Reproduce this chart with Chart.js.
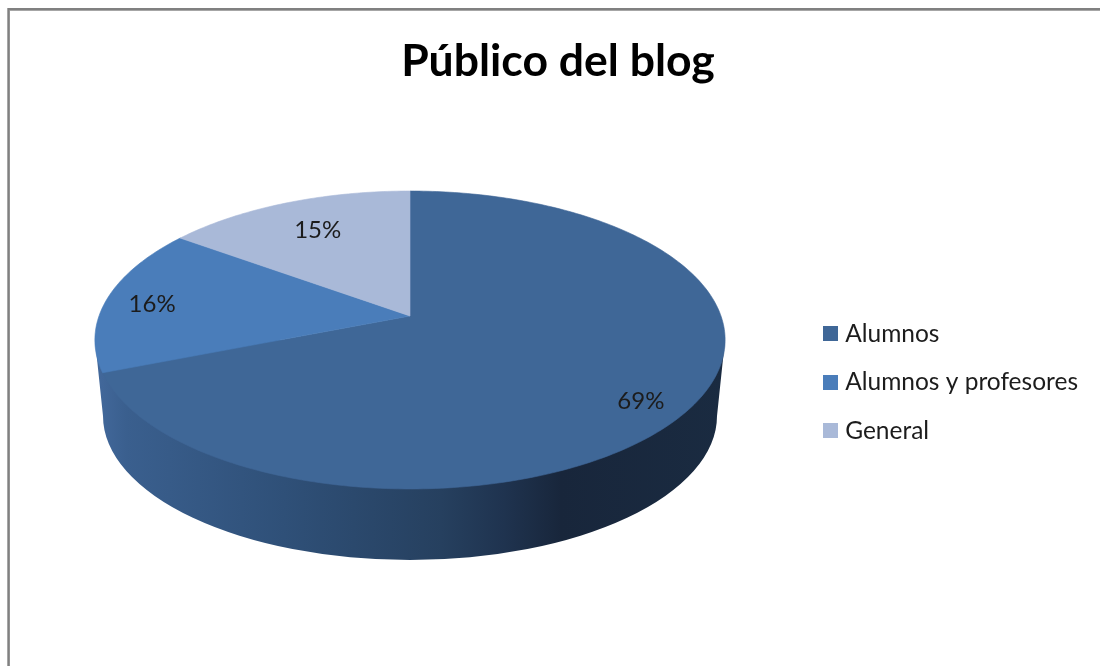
<!DOCTYPE html>
<html>
<head>
<meta charset="utf-8">
<script src="https://cdn.jsdelivr.net/npm/chart.js@4"></script>
<style>html,body{margin:0;padding:0;background:#fff;overflow:hidden}canvas{display:block}</style>
</head>
<body>
<canvas id="c" width="1100" height="666"></canvas>
<script>
const categories = ["Alumnos", "Alumnos y profesores", "General"];
const shares = [69, 16, 15];
const colors = ["#3f6797", "#4a7dba", "#a9b9d8"];
const labelNudges = [[9, 15], [-15, 3], [9, 7]];

// Perspective projection of the pie disc onto the page
const view = {cx: 410, cy: 316, a: 311, b: 145.1, k: -0.161};
function project(r, ang) {
  const x = r * Math.cos(ang), y = r * Math.sin(ang), w = 1 + view.k * y;
  return [view.cx + view.a * x / w, view.cy + view.b * y / w];
}
function swatch(color) {
  const s = document.createElement('canvas');
  s.width = 15; s.height = 15;
  const g = s.getContext('2d');
  g.fillStyle = color; g.fillRect(0, 0, 15, 15);
  return s;
}
const frame = {
  id: 'frame',
  beforeDraw(chart) {
    const c = chart.ctx;
    c.save();
    c.fillStyle = '#fff'; c.fillRect(0, 0, chart.width, chart.height);
    c.fillStyle = '#a6a6a6';
    c.fillRect(8, 8, chart.width, 3); c.fillRect(7, 8, 3, chart.height);
    c.fillStyle = '#808080';
    c.fillRect(8, 8, chart.width, 2); c.fillRect(8, 8, 1.5, chart.height);
    c.restore();
  }
};
const pie3d = {
  id: 'pie3d',
  beforeDatasetsDraw(chart) {
    const c = chart.ctx;
    const g = c.createLinearGradient(95, 0, 725, 0);
    g.addColorStop(0, '#43699c');
    g.addColorStop(0.05, '#3a5f8e');
    g.addColorStop(0.30, '#2f5078');
    g.addColorStop(0.55, '#26405f');
    g.addColorStop(0.65, '#1f334f');
    g.addColorStop(0.74, '#18263b');
    g.addColorStop(1, '#1a2b41');
    c.save();
    c.fillStyle = g;
    c.beginPath();
    c.moveTo(95, 340);
    c.lineTo(725, 340);
    c.lineTo(717, 416);
    c.ellipse(410, 416, 307, 144, 0, 0, Math.PI);
    c.closePath();
    c.fill();
    c.restore();
    chart.getDatasetMeta(0).data.forEach((arc, i) => {
      arc.draw = function (ctx) {
        const n = Math.ceil((this.endAngle - this.startAngle) * 60);
        ctx.save();
        ctx.beginPath();
        ctx.moveTo(view.cx, view.cy);
        for (let j = 0; j <= n; j++) {
          const p = project(1, this.startAngle + (this.endAngle - this.startAngle) * j / n);
          ctx.lineTo(p[0], p[1]);
        }
        ctx.closePath();
        ctx.fillStyle = ctx.strokeStyle = colors[i];
        ctx.lineWidth = 0.6;
        ctx.fill();
        ctx.stroke();
        ctx.restore();
      };
    });
  },
  afterDatasetsDraw(chart) {
    const c = chart.ctx;
    c.save();
    c.font = '24px Lato';
    c.fillStyle = '#1c1c1c';
    c.textAlign = 'center';
    c.textBaseline = 'middle';
    chart.getDatasetMeta(0).data.forEach((arc, i) => {
      const p = project(0.8, (arc.startAngle + arc.endAngle) / 2);
      c.fillText(shares[i] + '%', p[0] + labelNudges[i][0], p[1] + labelNudges[i][1]);
    });
    c.restore();
  }
};
new Chart(document.getElementById('c'), {
  type: 'pie',
  data: {labels: categories, datasets: [{data: shares, backgroundColor: colors, borderWidth: 0}]},
  plugins: [frame, pie3d],
  options: {
    responsive: false,
    animation: false,
    layout: {padding: {left: 28, right: 12, top: 34.5, bottom: -64}},
    plugins: {
      tooltip: {enabled: false},
      title: {
        display: true,
        text: 'Público del blog',
        color: '#000',
        font: {family: 'Lato', size: 44.5, weight: 'bold'},
        padding: {top: 0, bottom: 0}
      },
      legend: {
        position: 'right',
        labels: {
          color: '#1c1c1c',
          font: {family: 'Lato', size: 24.5},
          padding: 24,
          usePointStyle: true,
          pointStyleWidth: 4.5,
          boxHeight: 15,
          generateLabels(chart) {
            return Chart.overrides.pie.plugins.legend.labels.generateLabels(chart).map((l, i) => {
              l.pointStyle = swatch(colors[i]);
              return l;
            });
          }
        }
      }
    }
  }
});
</script>
</body>
</html>
